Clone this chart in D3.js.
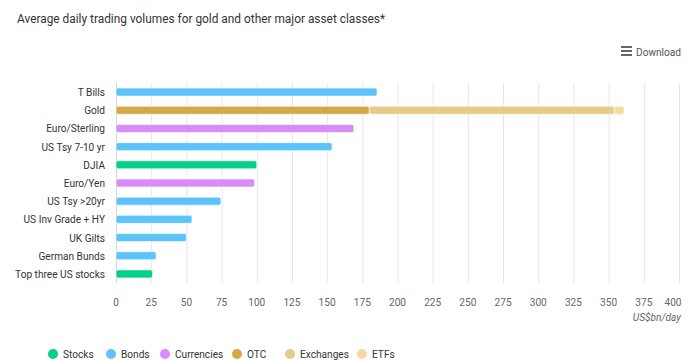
<!DOCTYPE html>
<html>
<head>
<meta charset="utf-8">
<script src="https://cdn.jsdelivr.net/npm/d3@7"></script>
<style>
  body { margin: 0; background: #fff; }
  svg { display: block; font-family: Roboto, "Liberation Sans", sans-serif; }
</style>
</head>
<body>
<div id="chart"></div>
<script>
// Data (US$bn/day)
const categories = ["T Bills", "Gold", "Euro/Sterling", "US Tsy 7-10 yr", "DJIA", "Euro/Yen",
    "US Tsy >20yr", "US Inv Grade + HY", "UK Gilts", "German Bunds", "Top three US stocks"];
const seriesNames = ["Stocks", "Bonds", "Currencies", "OTC", "Exchanges", "ETFs"];
const stocks     = [0, 0, 0, 0, 100, 0, 0, 0, 0, 0, 26];
const bonds      = [185.5, 0, 0, 153.5, 0, 0, 74.5, 54, 50, 28.5, 0];
const currencies = [0, 0, 169, 0, 0, 98.5, 0, 0, 0, 0, 0];
const otc        = [0, 180, 0, 0, 0, 0, 0, 0, 0, 0, 0];
const exchanges  = [0, 174, 0, 0, 0, 0, 0, 0, 0, 0, 0];
const etfs       = [0, 7, 0, 0, 0, 0, 0, 0, 0, 0, 0];
const xTicks = [0, 25, 50, 75, 100, 125, 150, 175, 200, 225, 250, 275, 300, 325, 350, 375, 400];

const WIDTH = 693;
const HEIGHT = 360;
const MARGINS = { top: 83, right: 14, bottom: 77, left: 116 };
const COLORS = ["#06cf8c", "#5cc3fb", "#d98cf7", "#d6a74b", "#e8cb8c", "#f4dba0"];
const SQUEEZE = 0.88;   // the reference uses a narrow face

const svg = d3.select("#chart").append("svg")
    .attr("width", WIDTH)
    .attr("height", HEIGHT)
    .attr("viewBox", [0, 0, WIDTH, HEIGHT]);

// place a text at (x, y) and squeeze it horizontally
const place = (sel, x, y) => sel
    .attr("x", 0).attr("y", 0)
    .attr("transform", (d, i) => `translate(${typeof x === "function" ? x(d, i) : x},${typeof y === "function" ? y(d, i) : y}) scale(${SQUEEZE},1)`);

const xScale = d3.scaleLinear()
    .domain([0, 400])
    .range([MARGINS.left, WIDTH - MARGINS.right]);
const yScale = d3.scaleBand()
    .domain(categories)
    .range([MARGINS.top, HEIGHT - MARGINS.bottom])
    .paddingInner(0.56)
    .paddingOuter(0.28);

// Title
svg.append("text")
    .text("Average daily trading volumes for gold and other major asset classes*")
    .call(place, 17, 23)
    .style("font-size", "13.5px").style("fill", "#333");

// Download button
const dl = svg.append("g").attr("transform", "translate(621,46)");
[0, 4, 8].forEach(d => dl.append("rect").attr("x", 0).attr("y", d).attr("width", 11).attr("height", 2).attr("fill", "#666"));
dl.append("text").text("Download").call(place, 15, 9.5)
    .style("font-size", "11.5px").style("fill", "#555");

// Vertical grid lines
svg.append("g")
    .selectAll("line")
    .data(xTicks.slice(1))
    .join("line")
    .attr("x1", d => xScale(d) + 0.5).attr("x2", d => xScale(d) + 0.5)
    .attr("y1", MARGINS.top).attr("y2", HEIGHT - MARGINS.bottom)
    .style("stroke", "#e6e6e6");

// Axis line at zero
svg.append("line")
    .attr("x1", xScale(0) + 0.5).attr("x2", xScale(0) + 0.5)
    .attr("y1", MARGINS.top).attr("y2", HEIGHT - MARGINS.bottom)
    .style("stroke", "#ccd6eb");

// Bars, stacked per category
const series = [stocks, bonds, currencies, otc, exchanges, etfs];
const rows = categories.map((c, i) => {
    const row = { cat: c };
    seriesNames.forEach((s, j) => row[s] = series[j][i]);
    return row;
});
const stacked = d3.stack().keys(seriesNames)(rows);
const bh = yScale.bandwidth();
stacked.forEach((layer, j) => {
    svg.append("g")
        .selectAll("rect")
        .data(layer.filter(d => d[1] > d[0]))
        .join("rect")
        .attr("x", d => xScale(d[0]))
        .attr("y", d => yScale(d.data.cat))
        .attr("width", d => xScale(d[1]) - xScale(d[0]))
        .attr("height", bh)
        .attr("rx", 2)
        .style("fill", COLORS[j])
        .style("stroke", "#fff")
        .style("stroke-width", 0.6);
});

// Category labels
svg.append("g")
    .selectAll("text")
    .data(categories)
    .join("text")
    .text(d => d)
    .call(place, MARGINS.left - 11, d => yScale(d) + bh / 2 + 4)
    .attr("text-anchor", "end")
    .style("font-size", "11.5px").style("fill", "#333");

// X tick labels
svg.append("g")
    .selectAll("text")
    .data(xTicks)
    .join("text")
    .text(d => d)
    .call(place, d => d === 400 ? xScale(d) - 6 : xScale(d), HEIGHT - MARGINS.bottom + 23)
    .attr("text-anchor", "middle")
    .style("font-size", "11.5px").style("fill", "#666");

svg.append("text")
    .text("US$bn/day")
    .call(place, WIDTH - 12, HEIGHT - MARGINS.bottom + 38)
    .attr("text-anchor", "end")
    .style("font-size", "11.5px").style("font-style", "italic").style("fill", "#666");

// Legend
const legendX = [53, 111, 165, 237, 290, 362];
const legend = svg.append("g")
    .selectAll("g")
    .data(seriesNames)
    .join("g")
    .attr("transform", (d, i) => `translate(${legendX[i]},354)`);
legend.append("circle").attr("r", 5).style("fill", (d, i) => COLORS[i]);
legend.append("text").text(d => d)
    .call(place, 10, 4)
    .style("font-size", "11.5px").style("fill", "#333");
</script>
</body>
</html>
